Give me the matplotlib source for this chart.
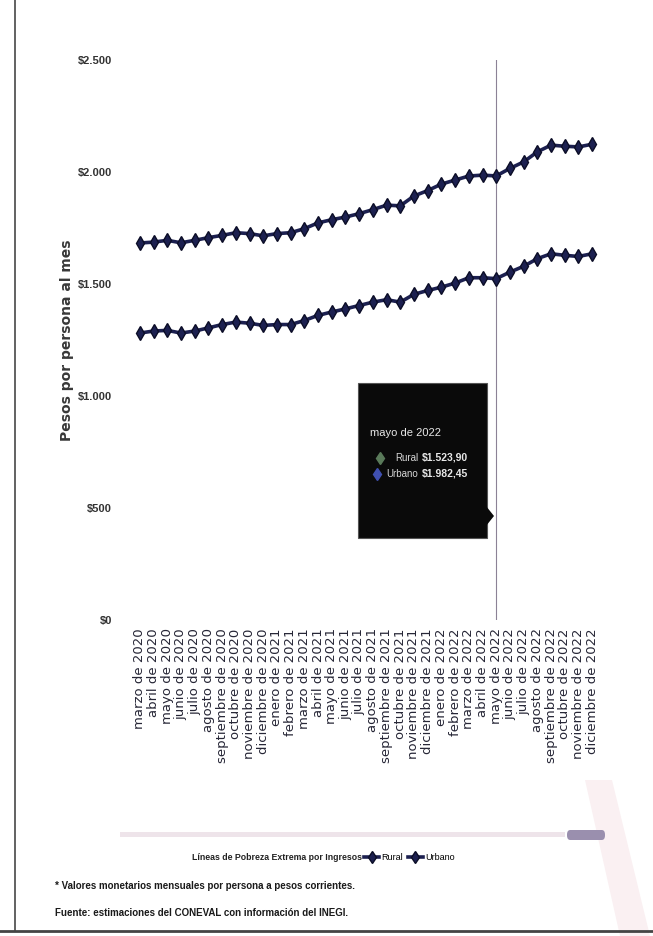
import matplotlib
matplotlib.use("Agg")
import matplotlib.pyplot as plt
from matplotlib.patches import Rectangle, FancyBboxPatch, Polygon
from matplotlib.lines import Line2D

# Meses de marzo 2020 a diciembre 2022
months = ["marzo", "abril", "mayo", "junio", "julio", "agosto", "septiembre",
          "octubre", "noviembre", "diciembre", "enero", "febrero", "marzo",
          "abril", "mayo", "junio", "julio", "agosto", "septiembre", "octubre",
          "noviembre", "diciembre", "enero", "febrero", "marzo", "abril",
          "mayo", "junio", "julio", "agosto", "septiembre", "octubre",
          "noviembre", "diciembre"]
years = [2020] * 10 + [2021] * 12 + [2022] * 12
labels = [f"{m} de {y}" for m, y in zip(months, years)]

rural = [1281, 1290, 1293, 1281, 1290, 1304, 1319, 1330, 1325, 1315, 1319,
         1319, 1337, 1360, 1375, 1389, 1404, 1419, 1430, 1419, 1454, 1471,
         1486, 1504, 1528, 1528, 1523.90, 1553, 1579, 1613, 1635, 1628,
         1623, 1635]
urbano = [1683, 1687, 1695, 1684, 1695, 1707, 1717, 1729, 1725, 1715, 1725,
          1729, 1747, 1773, 1787, 1799, 1814, 1832, 1852, 1849, 1893, 1917,
          1946, 1964, 1982, 1986, 1982.45, 2016, 2045, 2090, 2120, 2115,
          2112, 2124]
yticks = [0, 500, 1000, 1500, 2000, 2500]
hover = 26  # mayo de 2022

NAVY = "#1c2050"
EDGE = "#0b0d26"
W, H = 653, 936

plt.rcParams["font.family"] = ["Liberation Sans", "DejaVu Sans"]


def fx(px):
    return px / W


def fy(py):
    return 1 - py / H


def money(v):
    # formato mexicano del tooltip: $1.523,90
    return "$" + f"{v:,.2f}".replace(",", "X").replace(".", ",").replace("X", ".")


def main():
    fig = plt.figure(figsize=(W / 100, H / 100), dpi=100)
    fig.patch.set_facecolor("white")
    ax = fig.add_axes([fx(133), fy(620), 466 / W, 560 / H])

    x = list(range(len(labels)))
    line_r, = ax.plot(x, rural, color=NAVY, lw=2.6, marker="d", ms=7.5,
                      mfc=NAVY, mec=EDGE, mew=1, label="Rural")
    line_u, = ax.plot(x, urbano, color=NAVY, lw=2.6, marker="d", ms=7.5,
                      mfc=NAVY, mec=EDGE, mew=1, label="Urbano")

    ax.axvline(hover, color="#8c8296", lw=0.8, zorder=1)

    ax.set_xlim(-0.5, len(labels) - 0.5)
    ax.set_ylim(0, 2500)
    ax.set_yticks(yticks)
    ax.set_yticklabels([f"${v:,.0f}".replace(",", ".") for v in yticks],
                       fontsize=8, fontweight="bold", color="#333333")
    ax.set_xticks(x)
    ax.set_xticklabels(labels, rotation=90, fontsize=9.5, color="#262636",
                       family="DejaVu Sans", va="top", ha="center")
    ax.tick_params(axis="y", length=0, pad=15)
    ax.tick_params(axis="x", length=0, pad=6)
    for s in ax.spines.values():
        s.set_visible(False)
    ax.set_ylabel("Pesos por persona al mes", fontsize=10, fontweight="bold",
                  color="#383838", family="DejaVu Sans", labelpad=3)

    # tooltip
    def ax_pt(px, py):
        return ((px - 133) / 466, (620 - py) / 560)

    x0, y0 = ax_pt(358, 538)
    x1, y1 = ax_pt(487, 383)
    ax.add_patch(Rectangle((x0, y0), x1 - x0, y1 - y0, transform=ax.transAxes,
                           facecolor="#0a0a0a", edgecolor="#555555", lw=0.8,
                           zorder=10))
    ax.add_patch(Polygon([ax_pt(486, 506), ax_pt(486, 526), ax_pt(494, 516)],
                         closed=True, transform=ax.transAxes,
                         facecolor="#0a0a0a", edgecolor="none", zorder=10))
    ax.text(*ax_pt(370, 433), "mayo de 2022", transform=ax.transAxes,
            color="#e8e8e8", fontsize=8, va="center", zorder=11)
    ax.plot(*ax_pt(380, 458), transform=ax.transAxes, marker="d", ms=6,
            color="#5a7a5a", zorder=11)
    ax.text(*ax_pt(418, 458), "Rural", transform=ax.transAxes, color="#d8d8d8",
            fontsize=7, ha="right", va="center", zorder=11)
    ax.text(*ax_pt(422, 458), money(rural[hover]), transform=ax.transAxes,
            color="#e8e8e8", fontsize=7.5, fontweight="bold", va="center",
            zorder=11)
    ax.plot(*ax_pt(377, 474), transform=ax.transAxes, marker="d", ms=6,
            color="#4050b0", zorder=11)
    ax.text(*ax_pt(418, 474), "Urbano", transform=ax.transAxes, color="#d8d8d8",
            fontsize=7, ha="right", va="center", zorder=11)
    ax.text(*ax_pt(422, 474), money(urbano[hover]), transform=ax.transAxes,
            color="#e8e8e8", fontsize=7.5, fontweight="bold", va="center",
            zorder=11)

    # faint watermark band
    fig.patches.append(Polygon([(fx(585), fy(780)), (fx(612), fy(780)),
                                (fx(650), fy(936)), (fx(620), fy(936))],
                               closed=True, transform=fig.transFigure,
                               facecolor="#faf0f2", edgecolor="none", zorder=0))

    # navigator scrollbar
    fig.patches.append(Rectangle((fx(120), fy(837)), 445 / W, 5 / H,
                                 transform=fig.transFigure,
                                 facecolor="#eee4ea", edgecolor="none"))
    fig.patches.append(FancyBboxPatch((fx(567), fy(840)), 38 / W, 10 / H,
                                      boxstyle="round,pad=0,rounding_size=0.005",
                                      transform=fig.transFigure,
                                      facecolor="#9a8fae", edgecolor="none"))

    # legend
    fig.text(fx(362), fy(858), "Líneas de Pobreza Extrema por Ingresos",
             fontsize=6.3, fontweight="bold", color="#222222",
             ha="right", va="center")
    fig.legend(handles=[line_r, line_u], labels=["Rural", "Urbano"],
               loc="center left", bbox_to_anchor=(fx(364), fy(858)), ncol=2,
               frameon=False, fontsize=6.5, handlelength=1.7,
               handletextpad=0.25, columnspacing=0.5, borderpad=0,
               borderaxespad=0, markerscale=0.8)

    # notes
    fig.text(fx(55), fy(886),
             "* Valores monetarios mensuales por persona a pesos corrientes.",
             fontsize=7, fontweight="bold", color="#1a1a1a", va="center")
    fig.text(fx(55), fy(913),
             "Fuente: estimaciones del CONEVAL con información del INEGI.",
             fontsize=7, fontweight="bold", color="#1a1a1a", va="center")

    # frame of the page
    fig.lines.append(Line2D([fx(15), fx(15)], [fy(931), 1.0],
                            transform=fig.transFigure, color="#555555", lw=1.3))
    fig.lines.append(Line2D([0, 1], [fy(931), fy(931)],
                            transform=fig.transFigure, color="#444444", lw=2))

    fig.savefig("out.png", dpi=100)


if __name__ == "__main__":
    main()
